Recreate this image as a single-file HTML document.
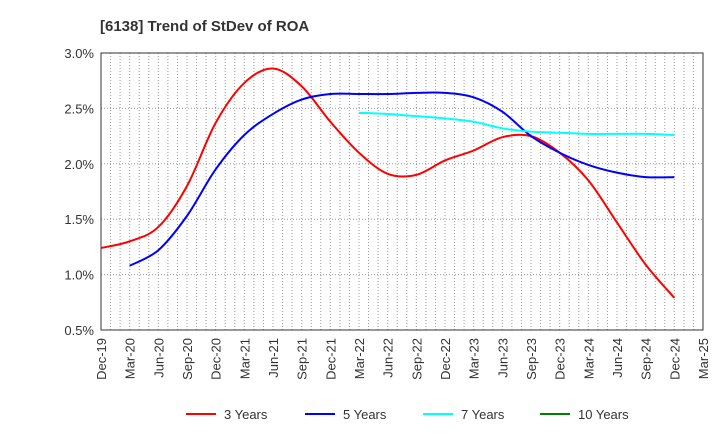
<!DOCTYPE html>
<html><head><meta charset="utf-8"><style>
body{margin:0;background:#fff;font-family:"Liberation Sans",sans-serif}
</style></head><body>
<svg id="chart" width="720" height="440" xmlns="http://www.w3.org/2000/svg" font-family="Liberation Sans, sans-serif">
<text x="100" y="31" font-size="15" font-weight="bold" fill="#333">[6138]  Trend of StDev of ROA</text>
<g id="grid"></g>
<g id="axes"></g>
<g id="series"></g>
<g id="legend"></g>
</svg>
<script>
const xLabels=["Dec-19","Mar-20","Jun-20","Sep-20","Dec-20","Mar-21","Jun-21","Sep-21","Dec-21","Mar-22","Jun-22","Sep-22","Dec-22","Mar-23","Jun-23","Sep-23","Dec-23","Mar-24","Jun-24","Sep-24","Dec-24","Mar-25"];
const yTicks=[0.5,1.0,1.5,2.0,2.5,3.0];
const s3=[1.24,1.30,1.43,1.80,2.37,2.73,2.86,2.70,2.38,2.10,1.91,1.90,2.03,2.12,2.24,2.25,2.10,1.85,1.47,1.09,0.79];
const s3Start=0;
const s5=[1.08,1.22,1.53,1.95,2.26,2.45,2.58,2.63,2.63,2.63,2.64,2.64,2.60,2.47,2.25,2.10,1.99,1.92,1.88,1.88];
const s5Start=1;
const s7=[2.46,2.45,2.43,2.41,2.38,2.32,2.29,2.28,2.27,2.27,2.27,2.26];
const s7Start=9;
const s10=[];
const s10Start=0;
const L=101,R=703,T=53,B=330;
const NS="http://www.w3.org/2000/svg";
const xs=i=>L+(R-L)*i/(xLabels.length-1);
const ys=v=>B-(v-0.5)/(3.0-0.5)*(B-T);
function mk(tag,attrs,parent){const e=document.createElementNS(NS,tag);for(const k in attrs)e.setAttribute(k,attrs[k]);parent.appendChild(e);return e;}
const grid=document.getElementById('grid'),axes=document.getElementById('axes'),ser=document.getElementById('series'),leg=document.getElementById('legend');
for(let m=1;m<(xLabels.length-1)*3;m++){const x=L+(R-L)*m/((xLabels.length-1)*3);
const g=mk('line',{x1:x,x2:x,y1:T,y2:B,stroke:'#999','stroke-dasharray':'1,2','stroke-width':1},grid);
}
yTicks.forEach(v=>{const y=ys(v);
const g=mk('line',{x1:L,x2:R,y1:y,y2:y,stroke:'#999','stroke-dasharray':'1,2'},grid);

const t=mk('text',{x:L-7,y:y+5,'text-anchor':'end','font-size':13,fill:'#333'},axes);t.textContent=v.toFixed(1)+'%';
});
xLabels.forEach((lb,i)=>{const x=xs(i);
const t=mk('text',{transform:`translate(${x+5},${B+8}) rotate(-90)`,'text-anchor':'end','font-size':13,fill:'#333'},axes);t.textContent=lb;
});
const fr=mk('rect',{x:L,y:T,width:R-L,height:B-T,fill:'none',stroke:'#333','stroke-width':1},axes);

function path(vals,start){const p=vals.map((v,i)=>[xs(start+i),ys(v)]);if(p.length<2)return '';
let d=`M${p[0][0]},${p[0][1]}`;
for(let i=0;i<p.length-1;i++){const p0=p[Math.max(i-1,0)],p1=p[i],p2=p[i+1],p3=p[Math.min(i+2,p.length-1)];
d+=` C${p1[0]+(p2[0]-p0[0])/6},${p1[1]+(p2[1]-p0[1])/6} ${p2[0]-(p3[0]-p1[0])/6},${p2[1]-(p3[1]-p1[1])/6} ${p2[0]},${p2[1]}`;}
return d;}
[[s3,s3Start,'#ff0000','series-3-years'],[s5,s5Start,'#0000ff','series-5-years'],[s7,s7Start,'#00ffff','series-7-years'],[s10,s10Start,'#008000','series-10-years']].forEach(([v,s,c,n])=>{
const d=path(v,s);if(!d)return;const e=mk('path',{d:d,fill:'none',stroke:c,'stroke-width':2},ser);
});
[['3 Years','#ff0000',186],['5 Years','#0000ff',305],['7 Years','#00ffff',423],['10 Years','#008000',540]].forEach(([t,c,x])=>{
const g=mk('g',{},leg);
mk('line',{x1:x,x2:x+30,y1:414,y2:414,stroke:c,'stroke-width':2},g);
const tx=mk('text',{x:x+38,y:419,'font-size':13,fill:'#333'},g);tx.textContent=t;});
</script>
</body></html>
